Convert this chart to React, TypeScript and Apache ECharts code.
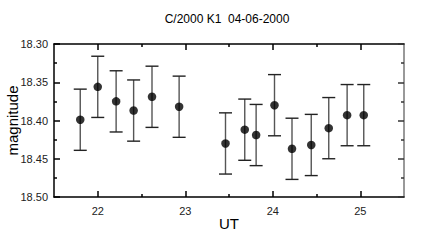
import React, { useEffect, useRef } from "react";
import * as echarts from "echarts";

const utTimes = [21.8, 22.0, 22.21, 22.41, 22.62, 22.93, 23.46, 23.68, 23.81, 24.02, 24.22, 24.44, 24.64, 24.85, 25.04];
const magnitudes = [18.399, 18.356, 18.375, 18.387, 18.369, 18.382, 18.430, 18.412, 18.419, 18.380, 18.437, 18.432, 18.410, 18.393, 18.393];
const magErrors = [0.04, 0.04, 0.04, 0.04, 0.04, 0.04, 0.04, 0.04, 0.04, 0.04, 0.04, 0.04, 0.04, 0.04, 0.04];
const xMajorTicks = [22, 23, 24, 25];
const xMinorTicks = [22.5, 23.5, 24.5];
const titleText = "C/2000 K1  04-06-2000";

const FONT = "'Liberation Sans', Arial, sans-serif";

export default function App() {
  const ref = useRef<HTMLDivElement>(null);
  useEffect(() => {
    if (!ref.current) return;
    const chart = echarts.init(ref.current, null, { renderer: "svg" });
    const errData = utTimes.map((t, i) => [t, magnitudes[i] - magErrors[i], magnitudes[i] + magErrors[i]]);
    const ptData = utTimes.map((t, i) => [t, magnitudes[i]]);
    const xBase = { type: "value", min: 21.5, max: 25.5, gridIndex: 0, splitLine: { show: false } };
    const yBase = { type: "value", min: 18.3, max: 18.5, interval: 0.05, inverse: true, splitLine: { show: false } };
    chart.setOption({
      animation: false,
      backgroundColor: "#fff",
      title: {
        text: titleText,
        left: 222,
        top: 8,
        textAlign: "center",
        textStyle: { fontFamily: FONT, fontSize: 12, fontWeight: "normal", color: "#000" },
      },
      grid: { left: 54, right: 32, top: 44, bottom: 44, containLabel: false, outerBoundsMode: "none" },
      xAxis: [
        {
          ...xBase,
          position: "bottom",
          name: "UT",
          nameLocation: "middle",
          nameGap: 19,
          nameMoveOverlap: false,
          nameTextStyle: { fontFamily: FONT, fontSize: 15, color: "#000" },
          axisLine: { show: true, onZero: false, lineStyle: { color: "#000", width: 1.5 } },
          axisTick: { show: true, inside: true, length: 6, customValues: xMajorTicks, lineStyle: { color: "#000", width: 1.5 } },
          axisLabel: { show: true, customValues: xMajorTicks, margin: 8, fontFamily: FONT, fontSize: 11, color: "#222" },
        },
        {
          ...xBase,
          position: "bottom",
          axisLine: { show: false, onZero: false },
          axisTick: { show: true, inside: true, length: 3, customValues: xMinorTicks, lineStyle: { color: "#000", width: 1.5 } },
          axisLabel: { show: false },
        },
        {
          ...xBase,
          position: "top",
          axisLine: { show: true, onZero: false, lineStyle: { color: "#000", width: 1.5 } },
          axisTick: { show: true, inside: true, length: 6, customValues: xMajorTicks, lineStyle: { color: "#000", width: 1.5 } },
          axisLabel: { show: false },
        },
        {
          ...xBase,
          position: "top",
          axisLine: { show: false, onZero: false },
          axisTick: { show: true, inside: true, length: 3, customValues: xMinorTicks, lineStyle: { color: "#000", width: 1.5 } },
          axisLabel: { show: false },
        },
      ],
      yAxis: [
        {
          ...yBase,
          position: "left",
          name: "magnitude",
          nameLocation: "middle",
          nameRotate: 90,
          nameGap: 42,
          nameMoveOverlap: false,
          nameTextStyle: { fontFamily: FONT, fontSize: 15, color: "#000", verticalAlign: "middle" },
          axisLine: { show: true, onZero: false, lineStyle: { color: "#000", width: 1.5 } },
          axisTick: { show: true, inside: true, length: 6, lineStyle: { color: "#000", width: 1.5 } },
          minorTick: { show: true, splitNumber: 2, length: 3, lineStyle: { color: "#000", width: 1.5 } },
          axisLabel: {
            show: true,
            margin: 6,
            fontFamily: FONT,
            fontSize: 11,
            color: "#222",
            formatter: (v: number) => v.toFixed(2),
          },
        },
        {
          ...yBase,
          position: "right",
          axisLine: { show: true, onZero: false, lineStyle: { color: "#777", width: 1.5 } },
          axisTick: { show: true, inside: true, length: 6, lineStyle: { color: "#333", width: 1.5 } },
          minorTick: { show: true, splitNumber: 2, length: 3, lineStyle: { color: "#333", width: 1.5 } },
          axisLabel: { show: false },
        },
      ],
      series: [
        {
          type: "custom",
          xAxisIndex: 0,
          yAxisIndex: 0,
          data: errData,
          encode: { x: 0, y: [1, 2] },
          renderItem: (params: any, api: any) => {
            const x = api.value(0);
            const lo = api.coord([x, api.value(1)]);
            const hi = api.coord([x, api.value(2)]);
            const hw = 6.5;
            const st = { stroke: "#555", lineWidth: 1.4 };
            return {
              type: "group",
              children: [
                { type: "line", shape: { x1: lo[0], y1: lo[1], x2: hi[0], y2: hi[1] }, style: st },
                { type: "line", shape: { x1: lo[0] - hw, y1: lo[1], x2: lo[0] + hw, y2: lo[1] }, style: { stroke: "#222", lineWidth: 1.4 } },
                { type: "line", shape: { x1: hi[0] - hw, y1: hi[1], x2: hi[0] + hw, y2: hi[1] }, style: { stroke: "#222", lineWidth: 1.4 } },
              ],
            };
          },
          z: 2,
        },
        {
          type: "scatter",
          xAxisIndex: 0,
          yAxisIndex: 0,
          data: ptData,
          symbol: "circle",
          symbolSize: 8.5,
          itemStyle: { color: "#000" },
          z: 3,
        },
      ],
    });
    return () => chart.dispose();
  }, []);
  return <div ref={ref} style={{ position: "fixed", left: 0, top: 0, width: 436, height: 241 }} />;
}
